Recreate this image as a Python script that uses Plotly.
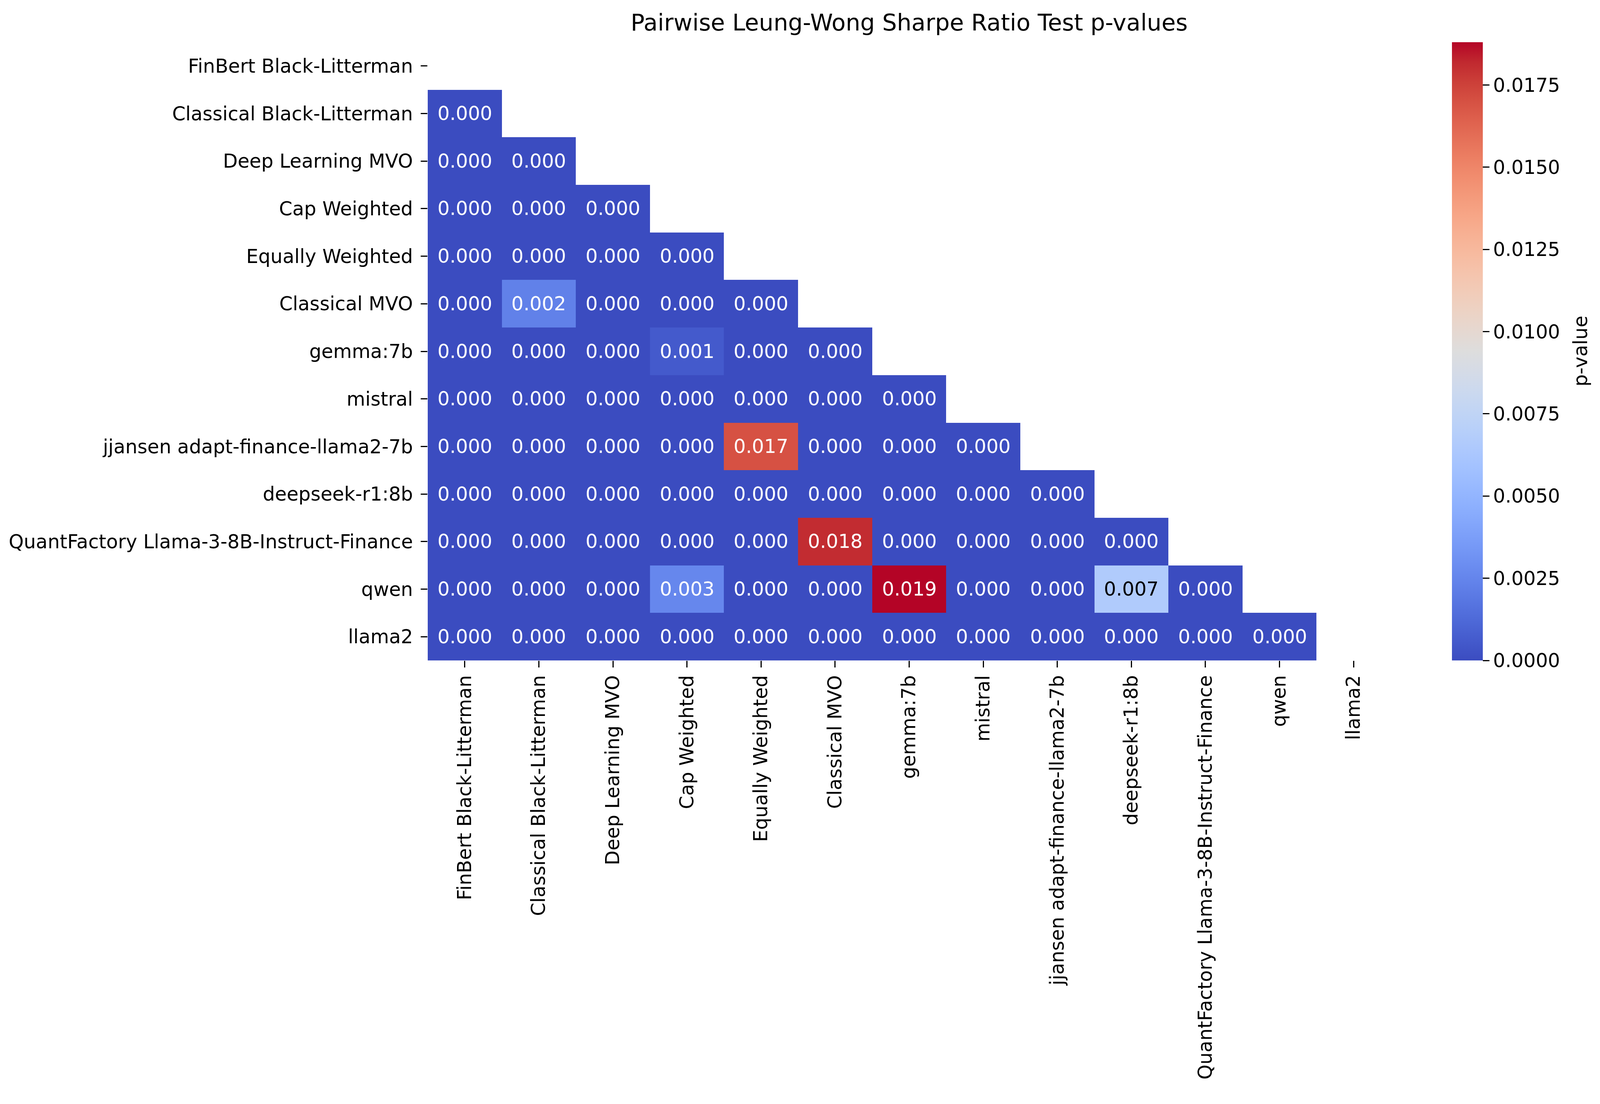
import plotly.graph_objects as go

# ---------------- data ----------------
labels = [
    "FinBert Black-Litterman",
    "Classical Black-Litterman",
    "Deep Learning MVO",
    "Cap Weighted",
    "Equally Weighted",
    "Classical MVO",
    "gemma:7b",
    "mistral",
    "jjansen adapt-finance-llama2-7b",
    "deepseek-r1:8b",
    "QuantFactory Llama-3-8B-Instruct-Finance",
    "qwen",
    "llama2",
]

# lower-triangle p-values, row i holds columns 0..i-1
row_classical_bl = [0.0]
row_dl_mvo = [0.0, 0.0]
row_cap = [0.0, 0.0, 0.0]
row_ew = [0.0, 0.0, 0.0, 0.0]
row_classical_mvo = [0.0, 0.0023, 0.0, 0.0, 0.0]
row_gemma = [0.0, 0.0, 0.0, 0.0006, 0.0, 0.0]
row_mistral = [0.0, 0.0, 0.0, 0.0, 0.0, 0.0, 0.0]
row_jjansen = [0.0, 0.0, 0.0, 0.0, 0.0170, 0.0, 0.0, 0.0]
row_deepseek = [0.0, 0.0, 0.0, 0.0, 0.0, 0.0, 0.0, 0.0, 0.0]
row_quantfactory = [0.0, 0.0, 0.0, 0.0, 0.0, 0.0181, 0.0, 0.0, 0.0, 0.0]
row_qwen = [0.0, 0.0, 0.0, 0.0026, 0.0, 0.0, 0.0188, 0.0, 0.0, 0.0066, 0.0]
row_llama2 = [0.0] * 12

colorbar_ticks = [0.0, 0.0025, 0.005, 0.0075, 0.01, 0.0125, 0.015, 0.0175]

lower_rows = [[], row_classical_bl, row_dl_mvo, row_cap, row_ew, row_classical_mvo,
              row_gemma, row_mistral, row_jjansen, row_deepseek, row_quantfactory,
              row_qwen, row_llama2]

n = len(labels)
z = []
for i, r in enumerate(lower_rows):
    z.append(list(r) + [None] * (n - len(r)))

vals = [v for r in lower_rows for v in r]
zmin, zmax = min(vals), max(vals)

# matplotlib "coolwarm"
cw = [
    (59, 76, 192), (68, 90, 204), (77, 104, 215), (87, 117, 225), (98, 130, 234),
    (108, 142, 241), (119, 154, 247), (130, 165, 251), (141, 176, 254), (152, 185, 255),
    (163, 194, 255), (174, 201, 253), (184, 208, 249), (194, 213, 244), (204, 217, 238),
    (213, 219, 230), (221, 221, 221), (229, 216, 209), (236, 211, 197), (241, 204, 185),
    (245, 196, 173), (247, 187, 160), (247, 177, 148), (247, 166, 135), (244, 154, 123),
    (241, 141, 111), (236, 127, 99), (229, 112, 88), (222, 96, 77), (213, 80, 66),
    (203, 62, 56), (192, 40, 47), (180, 4, 38),
]
colorscale = [[k / (len(cw) - 1), "rgb(%d,%d,%d)" % c] for k, c in enumerate(cw)]


def cmap(t):
    t = min(max(t, 0.0), 1.0) * (len(cw) - 1)
    k = min(int(t), len(cw) - 2)
    f = t - k
    return [cw[k][j] + (cw[k + 1][j] - cw[k][j]) * f for j in range(3)]


def lum(rgb):
    out = []
    for c in rgb:
        c = c / 255.0
        out.append(c / 12.92 if c <= 0.03928 else ((c + 0.055) / 1.055) ** 2.4)
    return 0.2126 * out[0] + 0.7152 * out[1] + 0.0722 * out[2]


FONT = "DejaVu Sans"
K = 0.988  # page-to-screenshot scale compensation


def px(v):
    return int(round(v * K))


W, H = px(4148), px(2825)
L, R, T, B = px(1108), px(4148 - 3603), px(109), px(2825 - 1711)
PW = W - L - R
FS = px(50)
TICKLEN = px(17)

fig = go.Figure()
fig.add_trace(go.Heatmap(
    z=z, x=labels, y=labels,
    colorscale=colorscale, zmin=zmin, zmax=zmax,
    xgap=0, ygap=0, hoverongaps=False,
    colorbar=dict(
        thickness=px(80), thicknessmode="pixels",
        len=1.0, lenmode="fraction", y=0.5, yanchor="middle",
        x=(px(3762) - L) / PW, xanchor="left", xpad=0, ypad=0,
        outlinewidth=0,
        tickmode="array", tickvals=colorbar_ticks, tickformat=".4f",
        ticks="outside", ticklen=TICKLEN, tickwidth=3, tickcolor="black",
        tickfont=dict(family=FONT, size=FS, color="black"),
    ),
))

annotations = []
for i, r in enumerate(lower_rows):
    for j, v in enumerate(r):
        t = (v - zmin) / (zmax - zmin)
        col = "black" if lum(cmap(t)) > 0.408 else "white"
        annotations.append(dict(
            x=labels[j], y=labels[i], xref="x", yref="y",
            text="%.3f" % v, showarrow=False,
            font=dict(family=FONT, size=FS, color=col),
        ))

# colorbar label
annotations.append(dict(
    text="p-value", textangle=-90, showarrow=False,
    xref="paper", yref="paper", x=(px(4095) - L) / PW, y=0.5,
    xanchor="center", yanchor="middle",
    font=dict(family=FONT, size=FS, color="black"),
))

fig.update_layout(
    width=W, height=H,
    margin=dict(l=L, r=R, t=T, b=B, pad=0),
    paper_bgcolor="white", plot_bgcolor="white",
    font=dict(family=FONT, size=FS, color="black"),
    title=dict(
        text="Pairwise Leung-Wong Sharpe Ratio Test p-values",
        x=0.5, xref="paper", xanchor="center",
        y=1 - px(58) / H, yref="container", yanchor="middle",
        font=dict(family=FONT, size=px(60), color="black"),
    ),
    annotations=annotations,
)
fig.update_xaxes(
    type="category", categoryorder="array", categoryarray=labels,
    range=[-0.5, n - 0.5], showgrid=False, zeroline=False, showline=False,
    ticks="outside", ticklen=TICKLEN, tickwidth=3, tickcolor="black",
    tickangle=-90, ticklabelstandoff=0,
    tickfont=dict(family=FONT, size=FS, color="black"),
)
fig.update_yaxes(
    type="category", categoryorder="array", categoryarray=labels,
    range=[n - 0.5, -0.5], showgrid=False, zeroline=False, showline=False,
    ticks="outside", ticklen=TICKLEN, tickwidth=3, tickcolor="black",
    ticklabelstandoff=10,
    tickfont=dict(family=FONT, size=FS, color="black"),
)

fig.write_html(
    "out.html",
    config={"displayModeBar": False},
    post_script="document.body.style.margin='0px';document.body.style.overflow='hidden';",
)
